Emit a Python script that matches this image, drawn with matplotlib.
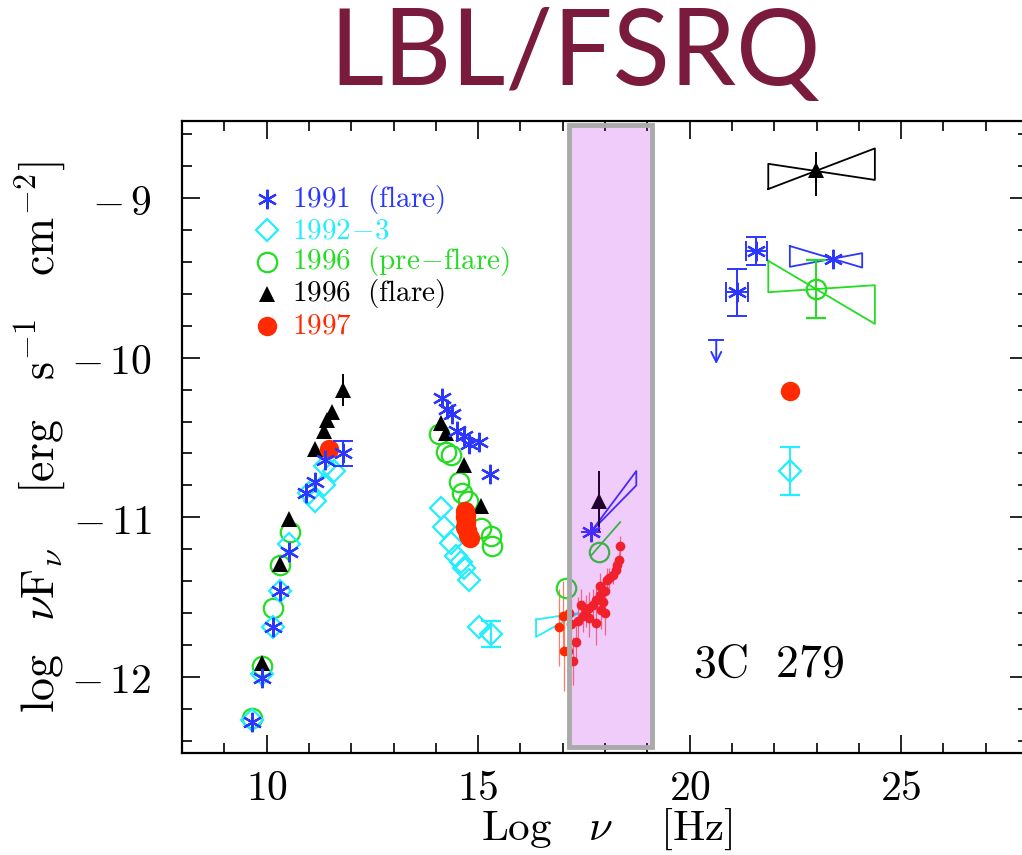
import matplotlib
matplotlib.use('Agg')
import matplotlib.pyplot as plt
from matplotlib.patches import Rectangle

plt.rcParams['mathtext.fontset'] = 'cm'
plt.rcParams['font.family'] = ['DejaVu Serif']

# ---- colours -------------------------------------------------------------
C91 = '#2b36ff'   # 1991 flare
C92 = '#22eeff'   # 1992-3
C96P = '#22dd22'  # 1996 pre-flare
C96F = '#000000'  # 1996 flare
C97 = '#ff2a00'   # 1997
C97_ERR = '#ff7a6a'
TITLE_COL = '#7a1a3c'

# ---- 1991 (flare) --------------------------------------------------------
x91 = [9.65, 9.89, 10.14, 10.32, 10.54, 10.92, 11.15, 11.39,
       14.14, 14.27, 14.39, 14.51, 14.67, 14.79, 15.02, 15.28]
y91 = [-12.28, -12.01, -11.69, -11.46, -11.22, -10.85, -10.78, -10.64,
       -10.25, -10.32, -10.35, -10.46, -10.49, -10.54, -10.53, -10.73]
# points with error bars
x91e = [11.80, 17.67, 21.12, 21.58]
y91e = [-10.60, -11.09, -9.59, -9.33]
dx91e = [0.0, 0.0, 0.26, 0.24]
dy91e = [0.08, 0.0, 0.146, 0.087]
# upper limit
x91ul = [20.63]
y91ul = [-9.89]
# bow ties: x0, y0, x1, x2, slope1, slope2
bt91_x = [17.67, 23.38]
bt91_y = [-11.09, -9.38]
bt91_x1 = [17.67, 22.37]
bt91_x2 = [18.74, 24.08]
bt91_s1 = [0.355, -0.079]
bt91_s2 = [0.271, 0.050]
x91g = [23.38]
y91g = [-9.38]

# ---- 1992-3 --------------------------------------------------------------
x92 = [9.65, 9.89, 10.14, 10.32, 10.54, 11.00, 11.15, 11.35, 11.39, 11.59,
       14.12, 14.19, 14.35, 14.47, 14.59, 14.67, 14.79, 15.02]
y92 = [-12.27, -11.98, -11.69, -11.46, -11.17, -10.85, -10.90, -10.80, -10.68, -10.71,
       -10.94, -11.06, -11.16, -11.24, -11.28, -11.32, -11.39, -11.69]
x92e = [15.30, 22.38]
y92e = [-11.73, -10.71]
dy92e = [0.08, 0.15]
bt92 = dict(x0=17.38, y0=-11.60, x1=16.37, x2=17.38, s1=0.04, s2=0.148)

# ---- 1996 (pre-flare) ----------------------------------------------------
x96p = [9.65, 9.89, 10.14, 10.32, 10.56,
        14.08, 14.23, 14.35, 14.55, 14.63, 14.75, 15.06, 15.30, 15.34,
        17.08, 17.85]
y96p = [-12.26, -11.93, -11.57, -11.30, -11.09,
        -10.48, -10.59, -10.61, -10.78, -10.85, -10.90, -11.07, -11.12, -11.18,
        -11.44, -11.22]
x96pe = [22.99]
y96pe = [-9.57]
dy96pe = [0.18]
bt96p = dict(x0=22.99, y0=-9.57, x1=21.86, x2=24.38, s1=-0.157, s2=0.0175)
x96p_pl = [17.67, 18.36]
y96p_pl = [-11.24, -11.03]

# ---- 1996 (flare) --------------------------------------------------------
x96f = [9.89, 10.32, 10.54, 11.15, 11.35, 11.43, 11.55,
        14.12, 14.23, 14.67, 15.06]
y96f = [-11.91, -11.29, -11.01, -10.57, -10.46, -10.39, -10.34,
        -10.41, -10.47, -10.67, -10.93]
x96fe = [11.81, 17.85, 22.98]
y96fe = [-10.20, -10.90, -8.825]
dy96fe_lo = [0.10, 0.19, 0.162]
dy96fe_hi = [0.10, 0.19, 0.111]
bt96f = dict(x0=22.98, y0=-8.83, x1=21.86, x2=24.38, s1=0.101, s2=-0.04)

# ---- 1997 ----------------------------------------------------------------
x97 = [11.47, 14.68, 14.70, 14.72, 14.69, 14.74, 14.77, 14.80, 14.72, 22.38]
y97 = [-10.57, -10.96, -11.00, -11.03, -11.06, -11.08, -11.11, -11.13, -10.99, -10.21]
# X-ray spectrum
x97x = [18.36, 18.33, 18.29, 18.25, 18.18, 18.10, 18.04, 17.99, 17.87, 17.87,
        17.79, 17.95, 17.71, 17.90, 17.63, 17.55, 17.43, 17.99, 17.47, 17.79,
        17.63, 17.35, 17.16, 17.00, 17.20, 16.92, 17.31, 17.04, 17.12, 17.25]
y97x = [-11.18, -11.27, -11.30, -11.33, -11.36, -11.38, -11.39, -11.46, -11.43, -11.49,
        -11.52, -11.53, -11.55, -11.58, -11.57, -11.59, -11.55, -11.60, -11.62, -11.66,
        -11.63, -11.65, -11.60, -11.62, -11.67, -11.69, -11.78, -11.84, -11.84, -11.90]
dy97x = [0.06, 0.05, 0.05, 0.05, 0.06, 0.06, 0.07, 0.07, 0.08, 0.08,
         0.10, 0.09, 0.10, 0.12, 0.10, 0.10, 0.10, 0.14, 0.10, 0.14,
         0.12, 0.15, 0.14, 0.22, 0.15, 0.24, 0.12, 0.25, 0.22, 0.15]

# ---- legend --------------------------------------------------------------
leg_labels = [r'1991\ \ (flare)', r'1992\!-\!3', r'1996\ \ (pre\!-\!flare)',
              r'1996\ \ (flare)', r'1997']
leg_y = [-9.006, -9.20, -9.40, -9.60, -9.80]

# X-ray band
band_x = (17.16, 19.12)

fig = plt.figure(figsize=(10.22, 8.55), dpi=100)
ax = fig.add_axes([182 / 1022, 1 - 752.7 / 855, (1028 - 182) / 1022, 632 / 855])
ax.set_xlim(8, 28)
ax.set_ylim(-12.475, -8.515)

ast = (6, 2, 0)
MEW = 1.6


def bowtie(x0, y0, x1, x2, s1, s2, color):
    xs = [x1, x2, x2, x1, x1]
    ys = [y0 + s1 * (x1 - x0), y0 + s1 * (x2 - x0), y0 + s2 * (x2 - x0),
          y0 + s2 * (x1 - x0), y0 + s1 * (x1 - x0)]
    ax.plot(xs, ys, color=color, lw=1.3, zorder=2)


# bow ties / power laws
bowtie(color=C92, **bt92)
bowtie(color=C96P, **bt96p)
bowtie(color=C96F, **bt96f)
for i in range(len(bt91_x)):
    bowtie(bt91_x[i], bt91_y[i], bt91_x1[i], bt91_x2[i], bt91_s1[i], bt91_s2[i], C91)
ax.plot(x96p_pl, y96p_pl, color=C96P, lw=1.3, zorder=2)

# 1997 X-ray spectrum
ax.errorbar(x97x, y97x, yerr=dy97x, fmt='o', ms=7, color=C97, ecolor=C97_ERR,
            elinewidth=0.9, capsize=4, capthick=0.9, mew=0, zorder=3)

# 1996 pre-flare
ax.plot(x96p, y96p, 'o', ms=14, mfc='none', mec=C96P, mew=MEW, zorder=4)
ax.errorbar(x96pe, y96pe, yerr=dy96pe, fmt='o', ms=14, mfc='none', mec=C96P,
            mew=MEW, color=C96P, elinewidth=1.4, capsize=7, capthick=1.4, zorder=4)

# 1992-3
ax.plot(x92, y92, 'D', ms=11.5, mfc='none', mec=C92, mew=MEW, zorder=5)
ax.errorbar(x92e, y92e, yerr=dy92e, fmt='D', ms=11.5, mfc='none', mec=C92,
            mew=MEW, color=C92, elinewidth=1.4, capsize=7, capthick=1.4, zorder=5)

# 1996 flare
ax.plot(x96f, y96f, '^', ms=12, color=C96F, mew=0, zorder=6)
ax.errorbar(x96fe, y96fe, yerr=[dy96fe_lo, dy96fe_hi], fmt='^', ms=12, color=C96F,
            mew=0, elinewidth=1.4, capsize=7, capthick=1.4, zorder=6)

# 1997
ax.plot(x97, y97, 'o', ms=14, color=C97, mew=0, zorder=7)

# 1991 flare
ax.plot(x91 + x91g, y91 + y91g, ls='none', marker=ast, ms=14, mec=C91, mew=MEW, zorder=8)
ax.errorbar(x91e, y91e, xerr=dx91e, yerr=dy91e, fmt='none', ecolor=C91,
            elinewidth=1.4, capsize=7, capthick=1.4, zorder=8)
ax.plot(x91e, y91e, ls='none', marker=ast, ms=14, mec=C91, mew=MEW, zorder=8)
for xu, yu in zip(x91ul, y91ul):
    ax.plot([xu - 0.17, xu + 0.17], [yu, yu], color=C91, lw=1.4, zorder=8)
    ax.annotate('', xy=(xu, yu - 0.15), xytext=(xu, yu),
                arrowprops=dict(arrowstyle='->', color=C91, lw=1.4,
                                shrinkA=0, shrinkB=0, mutation_scale=18), zorder=8)

# X-ray band: translucent violet wash with a grey frame
ax.add_patch(Rectangle((band_x[0], -12.44), band_x[1] - band_x[0], 12.44 - 8.545,
                       facecolor=(180 / 255, 0, 230 / 255), alpha=0.2,
                       edgecolor='none', zorder=20))
ax.add_patch(Rectangle((band_x[0], -12.44), band_x[1] - band_x[0], 12.44 - 8.545,
                       facecolor='none', edgecolor='#aaaaaa', lw=3.5, zorder=21))

# legend
leg_markers = [dict(marker=ast, ms=14, mec=C91, mew=MEW, ls='none'),
               dict(marker='D', ms=11.5, mfc='none', mec=C92, mew=MEW, ls='none'),
               dict(marker='o', ms=14, mfc='none', mec=C96P, mew=MEW, ls='none'),
               dict(marker='^', ms=12, color=C96F, mew=0, ls='none'),
               dict(marker='o', ms=14, color=C97, mew=0, ls='none')]
leg_cols = [C91, C92, C96P, C96F, C97]
for lab, yy, mk, col in zip(leg_labels, leg_y, leg_markers, leg_cols):
    ax.plot([10.0], [yy], **mk, zorder=9)
    ax.text(10.6, yy, r'$\mathrm{' + lab + '}$', color=col, fontsize=21,
            ha='left', va='center', zorder=9)

ax.text(20.07, -11.92, r'$\mathrm{3C\ \ 279}$', fontsize=33, ha='left', va='center')

# axes styling
ax.set_xticks([10, 15, 20, 25])
ax.set_xticks(range(8, 29), minor=True)
ax.set_xticklabels([r'$10$', r'$15$', r'$20$', r'$25$'])
ax.set_yticks([-12, -11, -10, -9])
ax.set_yticks([-12.4 + 0.2 * i for i in range(20)], minor=True)
ax.set_yticklabels([r'$-\,12$', r'$-\,11$', r'$-\,10$', r'$-\,9$'])
ax.tick_params(which='both', direction='in', top=True, right=True, width=1.2,
               labelsize=30)
ax.tick_params(which='major', length=13)
ax.tick_params(which='minor', length=7)
ax.tick_params(axis='y', pad=22)
ax.tick_params(axis='x', pad=10)
for s in ax.spines.values():
    s.set_linewidth(1.6)

fig.text(607 / 1022, 1 - 829 / 855, r'$\mathrm{Log}\ \ \ \nu\ \ \ \ [\mathrm{Hz}]$',
         fontsize=31, ha='center', va='center')
fig.text(40 / 1022, 1 - 437 / 855,
         r'$\log\ \ \nu\mathrm{F}_\nu\ \ \ \ [\mathrm{erg\ \ \ s^{-1}\ \ \ cm^{-2}}]$',
         fontsize=33, ha='center', va='center', rotation=90)

fig.text(575 / 1022, 1 - 55 / 855, 'LBL/FSRQ', ha='center', va='center',
         fontsize=76, color=TITLE_COL, family='Lato')

fig.savefig('out.png', dpi=100)
